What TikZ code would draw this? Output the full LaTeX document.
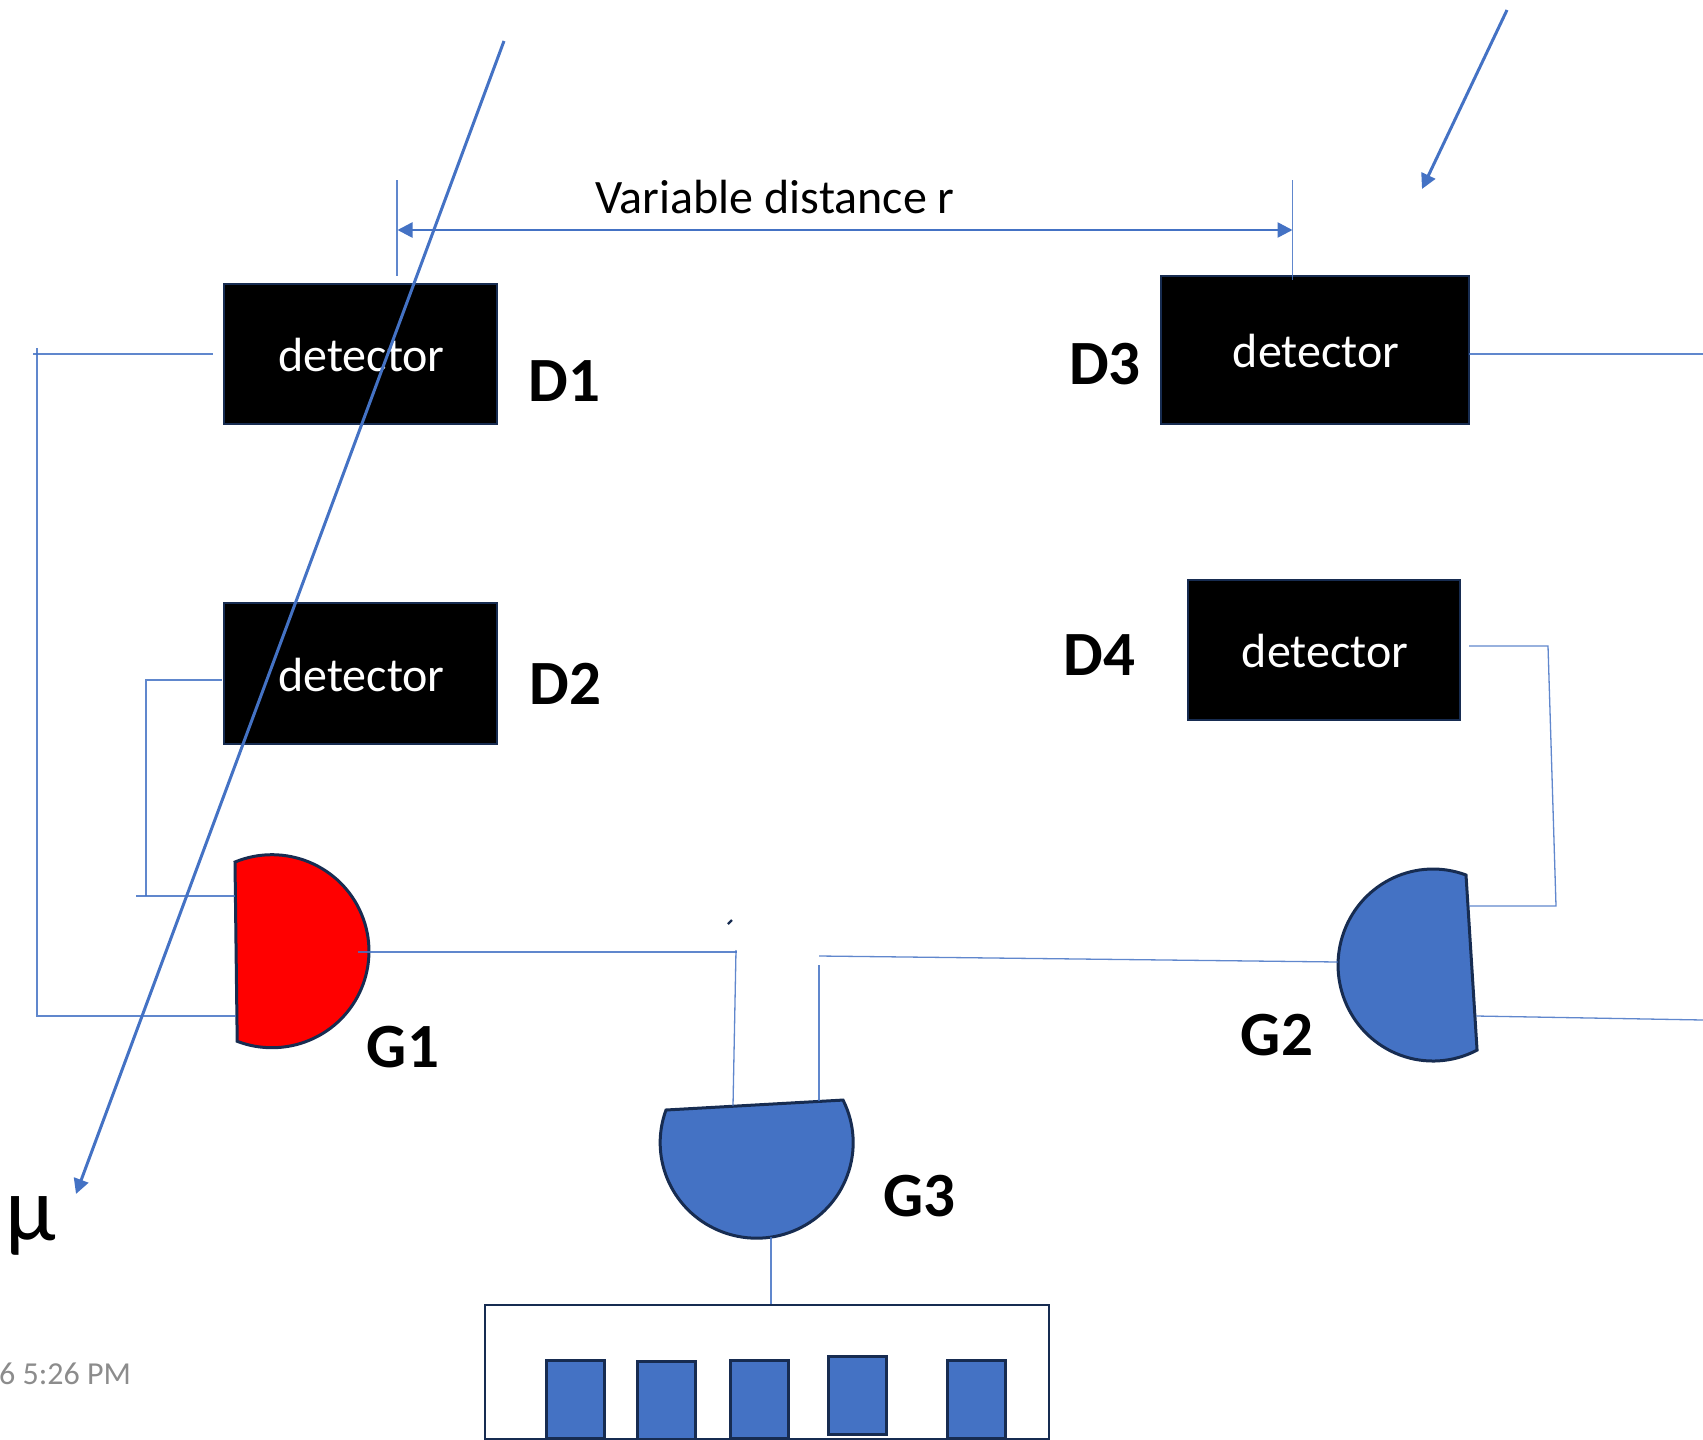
\documentclass[tikz,border=0pt]{standalone}
\usepackage{fontspec}
\setmainfont{Carlito}
\usetikzlibrary{arrows.meta}
\definecolor{wire}{HTML}{4472C4}
\definecolor{edge}{HTML}{172C51}
\tikzset{
  x=1pt,y=-1pt,
  wireline/.style={draw=wire,line width=1.3pt,opacity=.85},
  beam/.style={draw=wire,line width=3pt,-{Triangle[length=15pt,width=15pt]}},
  dimline/.style={draw=wire,line width=2.6pt,{Triangle[length=15pt,width=15pt]}-{Triangle[length=15pt,width=15pt]}},
  detbox/.style={draw=edge,line width=2.4pt,fill=black},
  dettext/.style={text=white,font=\fontsize{48}{52}\selectfont,inner sep=0pt},
  gatefill/.style={draw=edge,line width=3pt,fill=wire},
  tag/.style={font=\fontsize{63}{66}\selectfont\bfseries,inner sep=0pt,text=black},
  cell/.style={draw=edge,line width=3pt,fill=wire,minimum width=58pt,minimum height=78pt,inner sep=0pt},
}
\newcommand{\detector}[5]{% name, x0,y0,x1,y1
  \path[detbox] (#2,#3) rectangle (#4,#5);
  \coordinate (#1) at ({(#2+#4)/2},{(#3+#5)/2});
}
\begin{document}
\begin{tikzpicture}
\useasboundingbox (0,0) rectangle (1703,1440);
% detectors
\detector{d1}{224}{284}{497}{424}
\detector{d2}{224}{603}{497}{744}
\detector{d3}{1161}{276}{1469}{424}
\detector{d4}{1188}{580}{1460}{720}
\node[dettext] (t1) at (361.5,355) {detector};
\node[dettext] (t2) at (361.5,675) {detector};
\node[dettext] (t3) at (1316,351) {detector};
\node[dettext] (t4) at (1325,651) {detector};
% gates
\path[gatefill,fill=red] (235,862) arc[start angle=112.4,end angle=-111,x radius=97pt,y radius=96.5pt] -- cycle;
\path[gatefill] (1466,875) arc[start angle=69.7,end angle=297.6,x radius=95pt,y radius=96pt] -- cycle;
\path[gatefill] (666,1110) arc[start angle=160,end angle=386.5,x radius=96.5pt,y radius=95.5pt] -- cycle;
% connector ends
\coordinate (a1) at (33,354); \coordinate (a2) at (213,354);
\coordinate (b1) at (37,348); \coordinate (b2) at (37,1016); \coordinate (b3) at (236,1016);
\coordinate (c1) at (222,680); \coordinate (c2) at (146,680); \coordinate (c3) at (146,896);
\coordinate (c4) at (136,896); \coordinate (c5) at (235,896);
\coordinate (e1) at (358,952); \coordinate (e2) at (737,952); \coordinate (e3) at (736,950); \coordinate (e4) at (733,1106);
\coordinate (f1) at (819,956); \coordinate (f2) at (1338,962); \coordinate (f3) at (819,965); \coordinate (f4) at (819,1101);
\coordinate (g1) at (1469,354); \coordinate (g2) at (1703,354);
\coordinate (h1) at (1469,646); \coordinate (h2) at (1548,646); \coordinate (h3) at (1556,906); \coordinate (h4) at (1469,906);
\coordinate (i1) at (1476,1016); \coordinate (i2) at (1703,1020);
\coordinate (j1) at (771,1237); \coordinate (j2) at (771,1304);
\draw[wireline] (a1) -- (a2);
\draw[wireline] (b1) -- (b2) -- (b3);
\draw[wireline] (c1) -- (c2) -- (c3);
\draw[wireline] (c4) -- (c5);
\draw[wireline] (e1) -- (e2);
\draw[wireline] (e3) -- (e4);
\draw[wireline] (f1) -- (f2);
\draw[wireline] (f3) -- (f4);
\draw[wireline] (g1) -- (g2);
\draw[wireline] (h1) -- (h2) -- (h3) -- (h4);
\draw[wireline] (i1) -- (i2);
\draw[wireline] (j1) -- (j2);
% small tick
\coordinate (k1) at (728,924); \coordinate (k2) at (732,920);
\draw[draw=edge,line width=2.4pt] (k1) -- (k2);
% dimension
\coordinate (m1) at (397,180); \coordinate (m2) at (397,276);
\coordinate (n1) at (1292.5,180); \coordinate (n2) at (1292.5,280);
\coordinate (p1) at (397.5,230); \coordinate (p2) at (1292.5,230);
\draw[wireline] (m1) -- (m2);
\draw[wireline] (n1) -- (n2);
\draw[dimline] (p1) -- (p2);
% beams
\coordinate (q1) at (504,41); \coordinate (q2) at (76,1194);
\coordinate (r1) at (1507,10); \coordinate (r2) at (1422,189);
\draw[beam] (q1) -- (q2);
\draw[beam] (r1) -- (r2);
% labels
\node[inner sep=0pt] (lv) at (775,197) {\fontsize{48}{52}\selectfont Variable distance r};
\node[tag] (ld1) at (564.5,381) {D1};
\node[tag] (ld2) at (565.5,684) {D2};
\node[tag] (ld3) at (1105,364) {D3};
\node[tag] (ld4) at (1099.5,655) {D4};
\node[tag] (lg1) at (403,1047) {G1};
\node[tag] (lg2) at (1277,1035) {G2};
\node[tag] (lg3) at (919.5,1196) {G3};
\node[inner sep=0pt] (mu) at (31,1226) {\fontsize{92}{96}\selectfont μ};
\node[inner sep=0pt,anchor=west,text=black!45] (tm) at (-1,1374) {\fontsize{32}{35}\selectfont 6 5:26 PM};
% counter
\path[draw=edge,line width=2.6pt,fill=white] (485,1305) rectangle (1049,1439);
\node[cell] (s1) at (575.5,1399) {};
\node[cell] (s2) at (666.5,1400) {};
\node[cell] (s3) at (759,1399) {};
\node[cell] (s4) at (857.5,1395.5) {};
\node[cell] (s5) at (976.5,1399) {};
\end{tikzpicture}
\end{document}
